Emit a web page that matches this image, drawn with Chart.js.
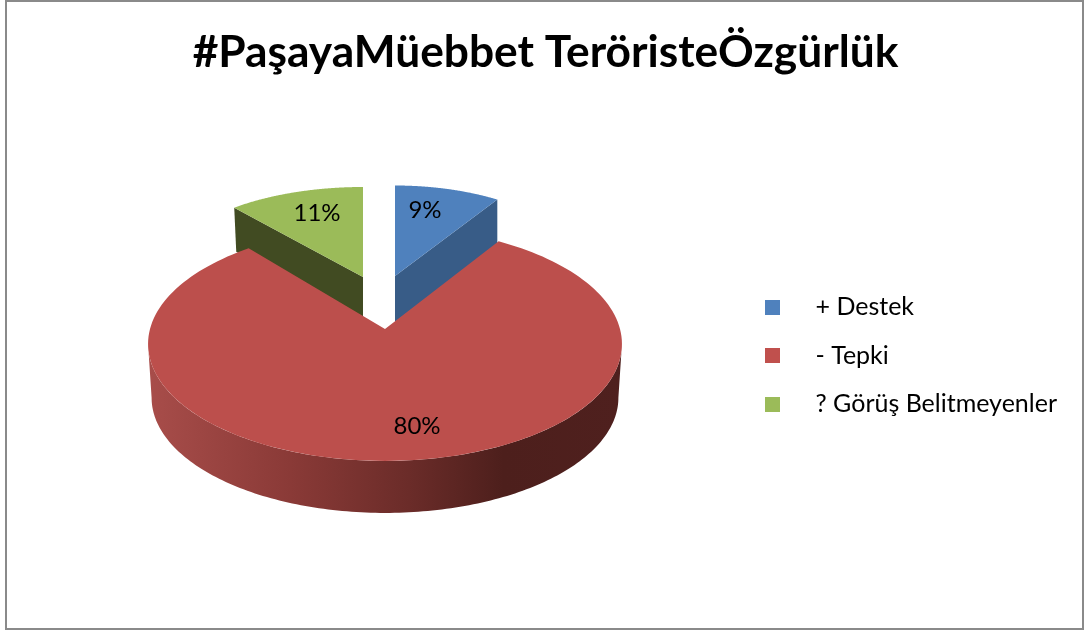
<!DOCTYPE html>
<html><head><meta charset="utf-8">
<style>html,body{margin:0;padding:0;background:#fff}#w{width:1084px;height:632px}canvas{display:block}</style>
<script src="https://cdn.jsdelivr.net/npm/chart.js@4/dist/chart.umd.min.js"></script>
</head><body><div id="w"><canvas id="c" width="1084" height="632"></canvas></div>
<script>
const categories = ['+ Destek', '- Tepki', '? Görüş Belitmeyenler'];
const values = [9, 80, 11];
const titleText = '#PaşayaMüebbet TeröristeÖzgürlük';

const topColors = ['#4F81BD', '#BC4F4C', '#9BBB59'];
const wallColors = ['#385C87', '#6E2D2A', '#414B22'];
// projection of each slice's disc: apex, radii, perspective, depth
const views = [
  {x: 395, y: 276, cx: 191, by: 90.5, a: 0, depth: 46},
  {x: 385, y: 329, cx: 235, by: 115, a: 0.128, depth: 53},
  {x: 363, y: 277, cx: 202, by: 90, a: 0, depth: 44}
];
const labelPos = [[425, 210], [417, 426], [317, 213]];
const FONT = 'Lato, "Open Sans", sans-serif';

function proj(view, theta, k, dy) {
  const u = Math.cos(theta), v = -Math.sin(theta), w = 1 + view.a * v;
  return [view.x + k * view.cx * u / w, view.y + (dy || 0) - k * view.by * v / w];
}
function arcPts(view, s, e, k, dy) {
  const pts = [], n = 160;
  for (let i = 0; i <= n; i++) pts.push(proj(view, s + (e - s) * i / n, k, dy));
  return pts;
}
function fillPoly(ctx, pts, fill) {
  ctx.beginPath();
  pts.forEach((p, i) => i ? ctx.lineTo(p[0], p[1]) : ctx.moveTo(p[0], p[1]));
  ctx.closePath();
  ctx.fillStyle = fill;
  ctx.fill();
}
const pie3d = {
  id: 'pie3d',
  beforeDraw(chart) {
    const ctx = chart.ctx, lg = chart.legend;
    ctx.save();
    ctx.fillStyle = '#fff';
    ctx.fillRect(0, 0, chart.width, chart.height);
    ctx.fillStyle = '#8A8A8A';
    ctx.fillRect(5, 0, 1079, 2);
    ctx.fillRect(5, 0, 2, 630);
    ctx.fillRect(1082, 0, 2, 630);
    ctx.fillRect(5, 628, 1079, 2);
    ctx.restore();
    const h = lg.height, w = lg.width, pad = lg.options.labels.padding;
    lg.left = 765 - pad; lg.right = lg.left + w + 40;
    lg.top = 294.5 - pad; lg.bottom = lg.top + h + 40;
  },
  beforeDatasetsDraw(chart) {
    const ctx = chart.ctx, arcs = chart.getDatasetMeta(0).data;
    ctx.save();
    // blue, green first; red lies in front of both
    [0, 2, 1].forEach(i => {
      const arc = arcs[i], view = views[i];
      const s = arc.startAngle, e = arc.endAngle;
      const apex = [view.x, view.y];
      if (i === 1) {
        // outer wall along the visible front of the disc
        const lim = Math.asin(view.a);
        const t1 = lim, t2 = Math.PI - lim;
        const top = arcPts(view, t2, t1, 1);
        const bot = arcPts(view, t1, t2, 0.985, view.depth + 1);
        const g = ctx.createLinearGradient(148, 0, 622, 0);
        g.addColorStop(0, '#A84D4A');
        g.addColorStop(0.3, '#8A3A37');
        g.addColorStop(0.55, '#6B2C29');
        g.addColorStop(0.75, '#4D1F1C');
        g.addColorStop(1, '#4F201E');
        fillPoly(ctx, top.concat(bot), g);
      } else {
        // cut face of the pulled-out slice
        const edgeAngle = i === 0 ? e : s;
        const c = proj(view, edgeAngle, 1);
        fillPoly(ctx, [apex, c, [c[0] + (i === 2 ? 2 : 0), c[1] + view.depth], [view.x, view.y + view.depth]], wallColors[i]);
      }
      fillPoly(ctx, [apex].concat(arcPts(view, s, e, 1)), topColors[i]);
    });
    // percentage labels (dataset drawing is replaced by this hook)
    const total = values.reduce((a, b) => a + b, 0);
    ctx.font = '24px ' + FONT;
    ctx.fillStyle = '#000';
    ctx.textAlign = 'center';
    ctx.textBaseline = 'middle';
    values.forEach((v, i) => ctx.fillText(Math.round(v / total * 100) + '%', labelPos[i][0], labelPos[i][1]));
    ctx.restore();
    return false;
  }
};
function swatch(color) {
  const c = document.createElement('canvas');
  c.width = 38; c.height = 15;
  const x = c.getContext('2d');
  x.fillStyle = color;
  x.fillRect(0, 0, 15, 15);
  return c;
}
new Chart(document.getElementById('c'), {
  type: 'pie',
  data: {labels: categories, datasets: [{data: values, backgroundColor: ['#4F81BD', '#C0504D', '#9BBB59'], borderWidth: 0}]},
  options: {
    responsive: false,
    animation: false,
    layout: {padding: {left: 7, right: 0}},
    plugins: {
      tooltip: {enabled: false},
      title: {display: true, text: titleText, color: '#000', font: {family: FONT, size: 44.3, weight: 'bold'}, padding: {top: 26, bottom: 20}},
      legend: {
        position: 'right', align: 'start',
        labels: {
          usePointStyle: true, pointStyleWidth: 38, color: '#000', padding: 23.5,
          font: {family: FONT, size: 25},
          generateLabels(chart) {
            return Chart.overrides.pie.plugins.legend.labels.generateLabels(chart)
              .map(l => Object.assign(l, {pointStyle: swatch(l.fillStyle)}));
          }
        }
      }
    }
  },
  plugins: [pie3d]
});
</script></body></html>
